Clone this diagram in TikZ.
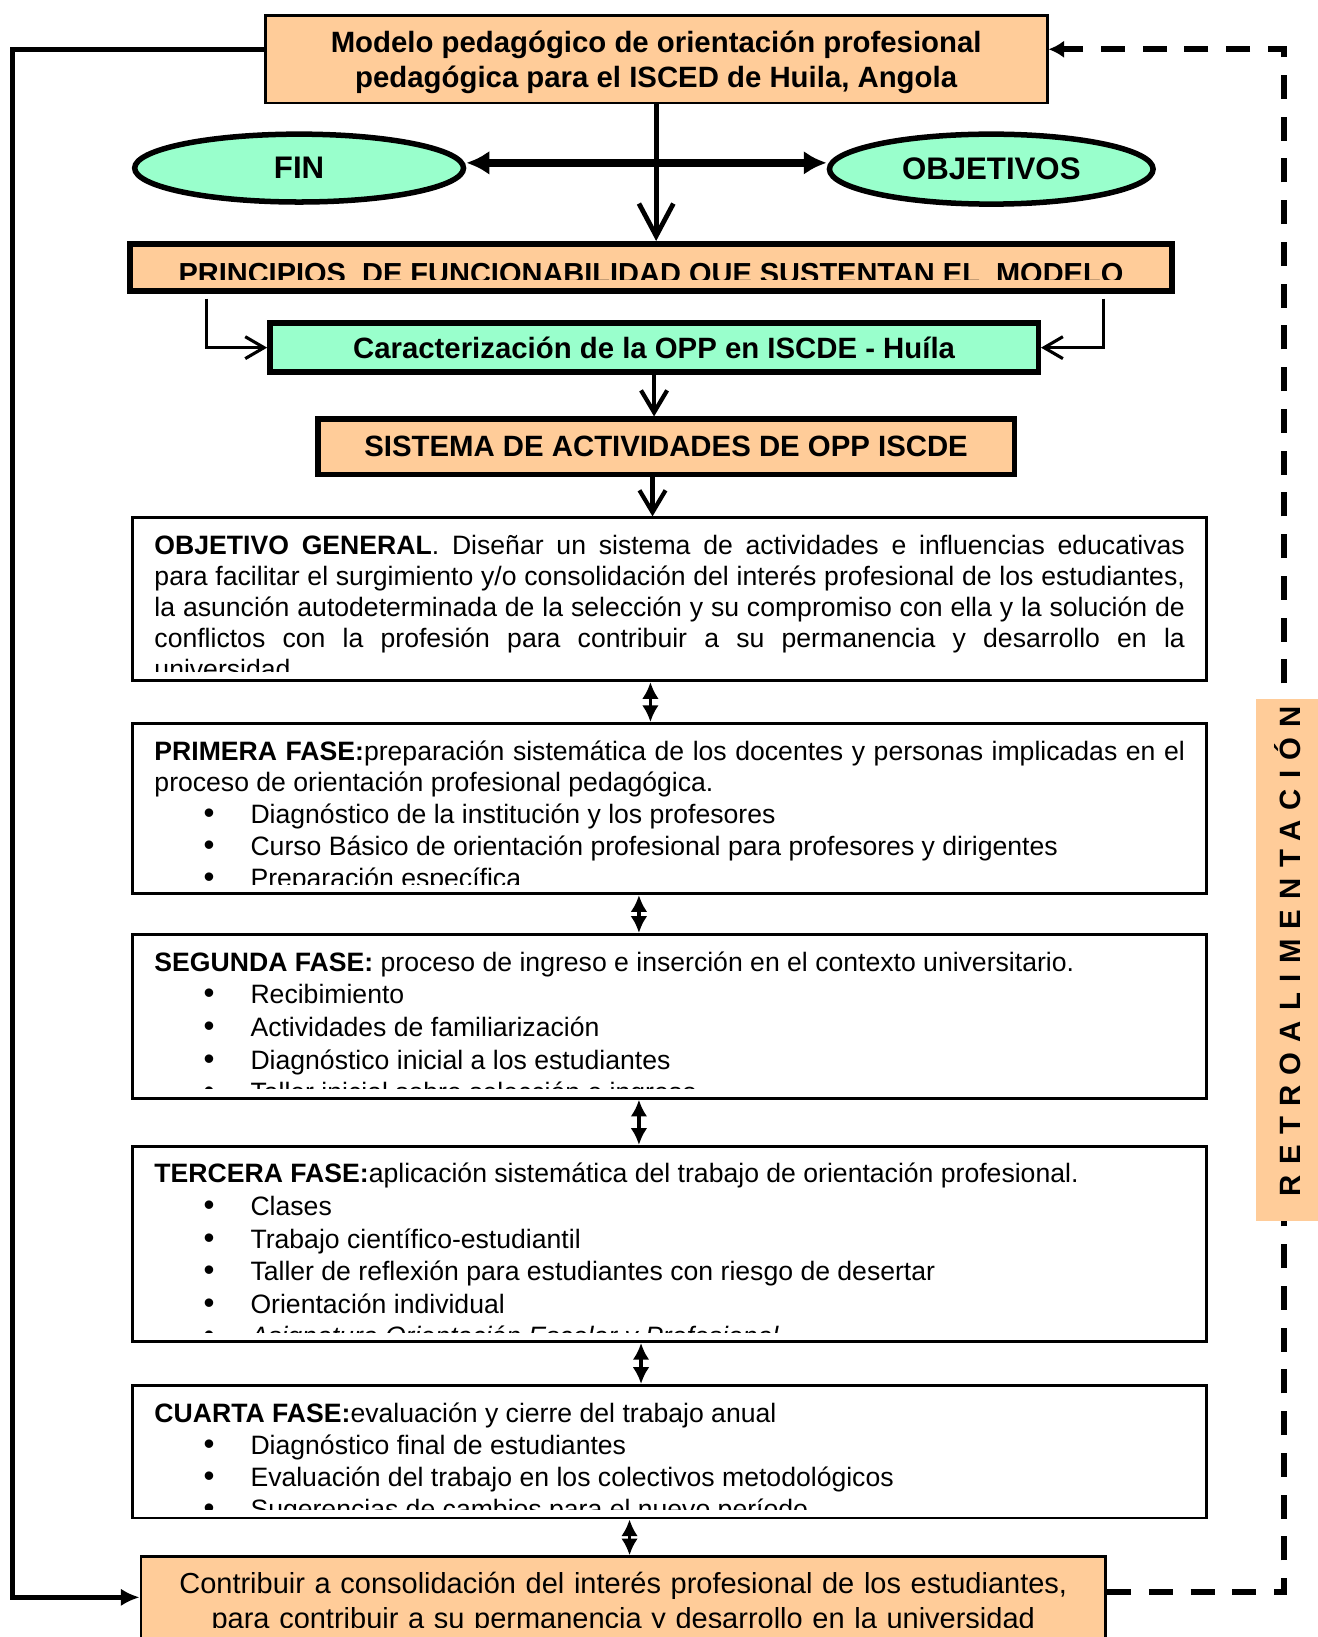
\documentclass[tikz,border=0pt]{standalone}
\usepackage{fontspec}
\setmainfont{Liberation Sans}
\usetikzlibrary{shapes.geometric,arrows.meta}
\setlength{\parskip}{0pt}

\definecolor{melocoton}{HTML}{FFCC99}
\definecolor{menta}{HTML}{99FFCC}

\tikzstyle{titulo} = [align=center, rectangle, draw, fill=melocoton, line width=1.5pt, font=\fontsize{16}{18.8}\selectfont\bfseries]
\tikzstyle{caja} = [rectangle, draw, fill=melocoton, line width=3pt, inner sep=0pt, font=\fontsize{16}{19}\selectfont\bfseries]
\tikzstyle{meta} = [ellipse, draw, fill=menta, line width=3pt, inner sep=0pt, font=\fontsize{17}{20}\selectfont\bfseries]
\tikzstyle{fase} = [rectangle, draw, fill=white, line width=1.6pt, minimum width=20.58cm]
\tikzstyle{texto} = [anchor=base west, inner sep=0pt, text width=19.74cm, align=justify, font=\fontsize{14.5}{17.4}\selectfont]
\tikzstyle{lazo} = [line width=2.8pt, >={Latex[length=0.36cm,width=0.34cm]}]
\tikzstyle{flecha} = [line width=2.3pt, >={Straight Barb[length=0.42cm,width=0.5cm]}]
\tikzstyle{doble} = [line width=1.7pt, >={Latex[length=0.32cm,width=0.32cm]}]

\newcommand{\punto}[1]{\par\noindent\hspace*{0.94cm}\makebox[0.9cm][l]{\fontsize{17}{17}\selectfont\textbullet}#1}

\begin{document}
\begin{tikzpicture}
\useasboundingbox (0,0) rectangle (25.24,-31.36);

\node [titulo, text depth=0pt, minimum width=14.98cm, minimum height=1.68cm] (modelo) at (12.57,-1.134) {Modelo pedagógico de orientación profesional\\pedagógica para el ISCED de Huila, Angola};
\node [meta, minimum width=6.3cm, minimum height=1.3cm] (fin) at (5.73,-3.22) {FIN};
\node [meta, minimum width=6.2cm, minimum height=1.34cm] (objetivos) at (18.99,-3.24) {OBJETIVOS};
\node [caja, minimum width=19.96cm, minimum height=0.9cm] (principios) at (12.47,-5.12) {};
\node [caja, fill=menta, minimum width=14.72cm, minimum height=0.94cm] (caract) at (12.53,-6.66) {Caracterización de la OPP en ISCDE - Huíla};
\node [caja, minimum width=13.34cm, minimum height=1.06cm] (sistema) at (12.76,-8.56) {SISTEMA DE ACTIVIDADES DE OPP ISCDE};
\node [fase, minimum height=3.12cm] (og) at (12.83,-11.48) {};
\node [fase, minimum height=3.26cm] (primera) at (12.83,-15.49) {};
\node [fase, minimum height=3.14cm] (segunda) at (12.83,-19.47) {};
\node [fase, minimum height=3.74cm] (tercera) at (12.83,-23.83) {};
\node [fase, minimum height=2.54cm] (cuarta) at (12.83,-27.81) {};
\node [titulo, minimum width=18.48cm, minimum height=2.18cm] (final) at (11.94,-30.91) {};

\begin{scope}
\clip ([yshift=0.26cm]principios.south west) rectangle (principios.north east);
\node [anchor=base, inner sep=0pt, font=\fontsize{15.8}{18}\selectfont\bfseries] (principiost) at ([yshift=-0.31cm]principios.center) {PRINCIPIOS\ \ DE FUNCIONABILIDAD QUE SUSTENTAN EL\ \ MODELO};
\end{scope}

\begin{scope}
\clip ([yshift=0.2cm]og.south west) rectangle (og.north east);
\node [texto, font=\fontsize{14.5}{16.9}\selectfont] (ogt) at ([xshift=0.44cm,yshift=-0.73cm]og.north west) {\textbf{OBJETIVO GENERAL}. Diseñar un sistema de actividades e influencias educativas\linebreak para facilitar el surgimiento y/o consolidación del interés profesional de los estudiantes,\linebreak la asunción autodeterminada de la selección y su compromiso con ella y la solución de\linebreak conflictos con la profesión para contribuir a su permanencia y desarrollo en la\linebreak universidad};
\end{scope}

\begin{scope}
\clip ([yshift=0.2cm]primera.south west) rectangle (primera.north east);
\node [texto, font=\fontsize{14.5}{17.3}\selectfont] (primerat) at ([xshift=0.44cm,yshift=-0.73cm]primera.north west) {\textbf{PRIMERA FASE:}preparación sistemática de los docentes y personas implicadas en el\linebreak proceso de orientación profesional pedagógica.\punto{Diagnóstico de la institución y los profesores}\punto{Curso Básico de orientación profesional para profesores y dirigentes}\punto{Preparación específica}};
\end{scope}

\begin{scope}
\clip ([yshift=0.22cm]segunda.south west) rectangle (segunda.north east);
\node [texto, font=\fontsize{14.5}{17.8}\selectfont] (segundat) at ([xshift=0.44cm,yshift=-0.73cm]segunda.north west) {\textbf{SEGUNDA FASE:} proceso de ingreso e inserción en el contexto universitario.\punto{Recibimiento}\punto{Actividades de familiarización}\punto{Diagnóstico inicial a los estudiantes}\punto{Taller inicial sobre selección e ingreso}};
\end{scope}

\begin{scope}
\clip ([yshift=0.2cm]tercera.south west) rectangle (tercera.north east);
\node [texto, font=\fontsize{14.5}{17.75}\selectfont] (tercerat) at ([xshift=0.44cm,yshift=-0.73cm]tercera.north west) {\textbf{TERCERA FASE:}aplicación sistemática del trabajo de orientación profesional.\punto{Clases}\punto{Trabajo científico-estudiantil}\punto{Taller de reflexión para estudiantes con riesgo de desertar}\punto{Orientación individual}\punto{\textit{Asignatura Orientación Escolar y Profesional}}};
\end{scope}

\begin{scope}
\clip ([yshift=0.2cm]cuarta.south west) rectangle (cuarta.north east);
\node [texto, font=\fontsize{14.5}{17.5}\selectfont] (cuartat) at ([xshift=0.44cm,yshift=-0.73cm]cuarta.north west) {\textbf{CUARTA FASE:}evaluación y cierre del trabajo anual\punto{Diagnóstico final de estudiantes}\punto{Evaluación del trabajo en los colectivos metodológicos}\punto{Sugerencias de cambios para el nuevo período}};
\end{scope}

\begin{scope}
\clip (final.north west) rectangle ([yshift=-1.38cm]final.north east);
\node [anchor=base, inner sep=0pt, text width=18.48cm, align=center, font=\fontsize{15.8}{18.8}\selectfont] (finalt) at ([yshift=-0.74cm]final.north) {Contribuir a consolidación del interés profesional de los estudiantes,\\para contribuir a su permanencia y desarrollo en la universidad};
\end{scope}

\coordinate (izq) at (0.24,-15);
\coordinate (der) at (24.6,-15);

\draw [lazo, ->] ([yshift=0.19cm]modelo.west) -| (izq) |- ([yshift=0.31cm]final.west);
\draw [lazo, line width=3.3pt, dash pattern=on 0.46cm off 0.34cm, >={Latex[length=0.3cm,width=0.34cm]}, ->] ([yshift=0.41cm]final.east) -| (der) |- ([yshift=0.19cm]modelo.east);

\node [fill=melocoton, minimum width=1.18cm, minimum height=10cm, inner sep=0pt] (retro) at (24.65,-18.4) {};
\node [rotate=90, inner sep=0pt, font=\fontsize{16}{16}\selectfont\bfseries\addfontfeature{LetterSpace=35}] (retrot) at (24.66,-18.22) {RETROALIMENTACIÓN};

\draw [lazo, line width=4pt, >={Latex[length=0.44cm,width=0.46cm]}, <->] ([yshift=0.1cm]fin.east) -- ([yshift=0.1cm]fin.east -| objetivos.west);
\draw [flecha, line width=2.6pt, >={Straight Barb[length=0.62cm,width=0.66cm]}, ->] (modelo.south) -- (modelo.south |- principios.north);
\draw [flecha, line width=1.7pt, >={Straight Barb[length=0.36cm,width=0.42cm]}, ->] ([xshift=1.52cm,yshift=-0.1cm]principios.south west) |- (caract.west);
\draw [flecha, line width=1.7pt, >={Straight Barb[length=0.36cm,width=0.42cm]}, ->] ([xshift=-1.36cm,yshift=-0.1cm]principios.south east) |- (caract.east);
\draw [flecha, ->] (caract.south) -- (caract.south |- sistema.north);
\draw [flecha, ->] ([xshift=-0.26cm]sistema.south) -- ([xshift=-0.26cm]sistema.south |- og.north);

\draw [doble, <->] ([xshift=-0.37cm]og.south) -- ([xshift=-0.37cm]og.south |- primera.north);
\draw [doble, <->] ([xshift=-0.59cm]primera.south) -- ([xshift=-0.59cm]primera.south |- segunda.north);
\draw [doble, <->] ([xshift=-0.59cm]segunda.south) -- ([xshift=-0.59cm]segunda.south |- tercera.north);
\draw [doble, <->] ([xshift=-0.55cm]tercera.south) -- ([xshift=-0.55cm]tercera.south |- cuarta.north);
\draw [doble, <->] ([xshift=-0.77cm]cuarta.south) -- ([xshift=-0.77cm]cuarta.south |- final.north);
\end{tikzpicture}
\end{document}
